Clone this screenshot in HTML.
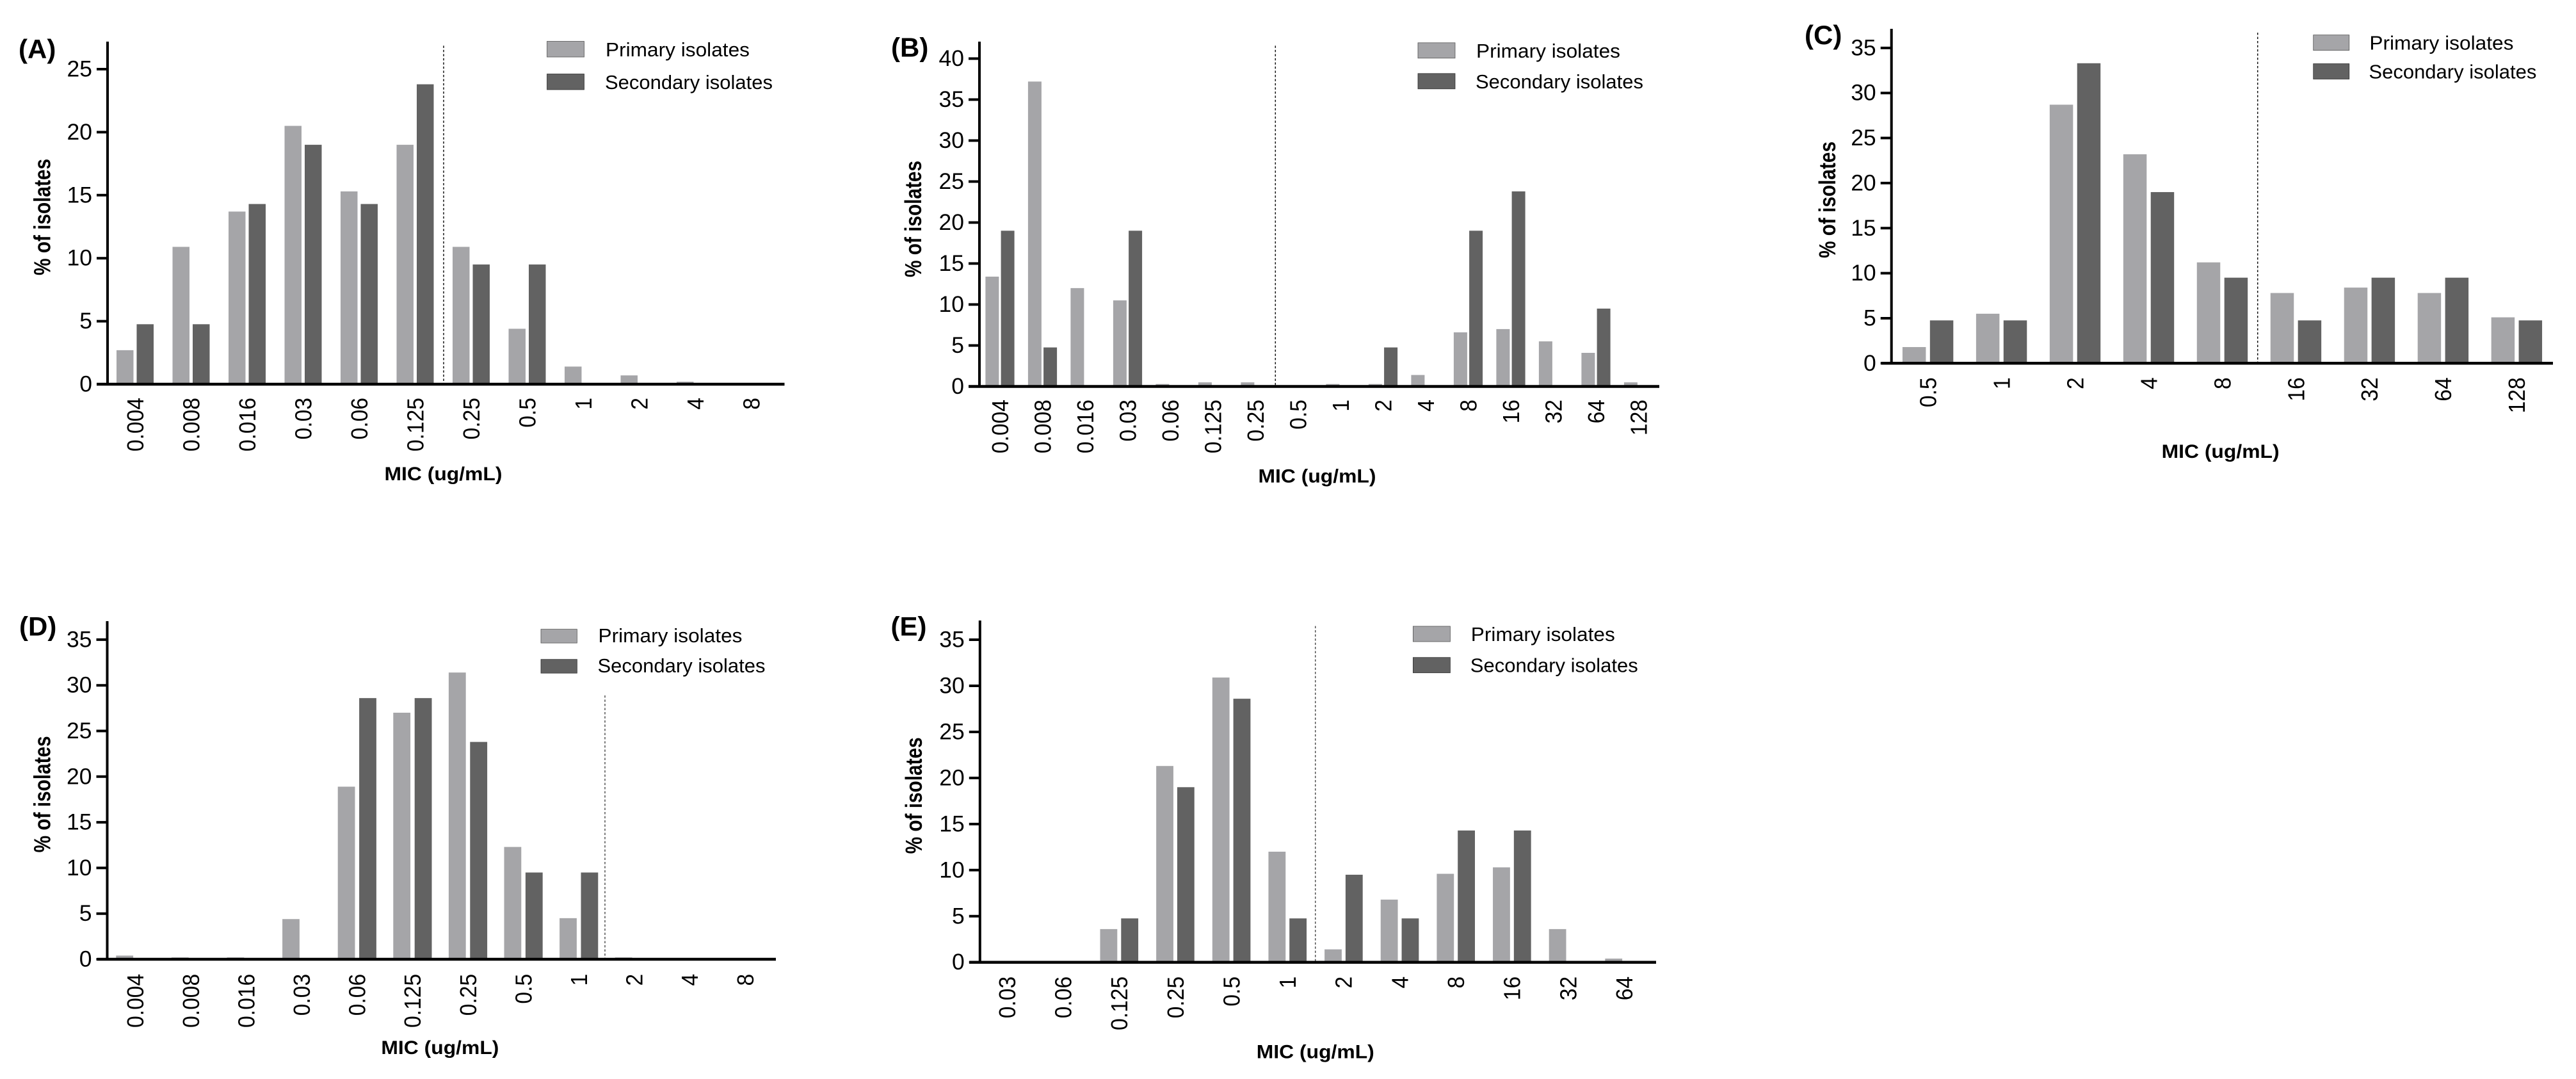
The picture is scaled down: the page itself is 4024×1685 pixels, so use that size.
<!DOCTYPE html>
<html lang="en">
<head>
<meta charset="utf-8">
<title>MIC distributions of primary and secondary isolates</title>
<style>
  html, body { margin: 0; padding: 0; background: #fff; }
  svg { display: block; }
  text { font-family: "Liberation Sans", sans-serif; fill: #000; }
</style>
</head>
<body>
<svg id="figure" xmlns="http://www.w3.org/2000/svg" width="4024" height="1685" viewBox="0 0 4024 1685"></svg>
<script>
// ---- Data ----
const categoriesA = ['0.004','0.008','0.016','0.03','0.06','0.125','0.25','0.5','1','2','4','8'];
const primaryA = [2.7,10.9,13.7,20.5,15.3,19,10.9,4.4,1.4,0.7,0.2,0];
const secondaryA = [4.76,4.76,14.3,19,14.3,23.8,9.5,9.5,0,0,0,0];
const yTicksA = [0,5,10,15,20,25];

const categoriesB = ['0.004','0.008','0.016','0.03','0.06','0.125','0.25','0.5','1','2','4','8','16','32','64','128'];
const primaryB = [13.4,37.2,12,10.5,0.3,0.5,0.5,0,0.3,0.3,1.4,6.6,7,5.5,4.1,0.5];
const secondaryB = [19,4.76,0,19,0,0,0,0,0,4.76,0,19,23.8,0,9.5,0];
const yTicksB = [0,5,10,15,20,25,30,35,40];

const categoriesC = ['0.5','1','2','4','8','16','32','64','128'];
const primaryC = [1.8,5.5,28.7,23.2,11.2,7.8,8.4,7.8,5.1];
const secondaryC = [4.76,4.76,33.3,19,9.5,4.76,9.5,9.5,4.76];
const yTicksC = [0,5,10,15,20,25,30,35];

const categoriesD = ['0.004','0.008','0.016','0.03','0.06','0.125','0.25','0.5','1','2','4','8'];
const primaryD = [0.4,0.2,0.2,4.4,18.9,27,31.4,12.3,4.5,0.2,0,0];
const secondaryD = [0,0,0,0,28.6,28.6,23.8,9.5,9.5,0,0,0];
const yTicksD = [0,5,10,15,20,25,30,35];

const categoriesE = ['0.03','0.06','0.125','0.25','0.5','1','2','4','8','16','32','64'];
const primaryE = [0,0,3.6,21.3,30.9,12,1.4,6.8,9.6,10.3,3.6,0.4];
const secondaryE = [0,0,4.76,19,28.6,4.76,9.5,4.76,14.3,14.3,0,0];
const yTicksE = [0,5,10,15,20,25,30,35];

// ---- Panel layout (geometry only) ----
const panelA = { key:'a', label:'(A)', categories:categoriesA, primary:primaryA, secondary:secondaryA, yTicks:yTicksA,
  axisX:168, baseY:600, topY:65, unit:19.68, xStart:151, xEnd:1225.5, center0:211, step:87.5, barW:26.5, gap:2.5,
  cutoffX:693, cutoffTop:71.4, cutoffW:1.5, swX:854.5, swW:58, sw1Y:64.5, sw2Y:115.5, swH:24.5, legendX:946,
  labelTop:621, titleX:78.5, titleY:339, xTitleX:692.5, xTitleY:750, panelX:29, panelY:91 };
const panelB = { key:'b', label:'(B)', categories:categoriesB, primary:primaryB, secondary:secondaryB, yTicks:yTicksB,
  axisX:1530, baseY:603.5, topY:65, unit:12.8, xStart:1513, xEnd:2592, center0:1562, step:66.5, barW:21, gap:1.6,
  cutoffX:1992.3, cutoffTop:71.4, cutoffW:1.5, swX:2215, swW:58, sw1Y:66.8, sw2Y:114.8, swH:24, legendX:2306,
  labelTop:624, titleX:1439, titleY:342, xTitleX:2057.5, xTitleY:753.5, panelX:1392, panelY:88.3 };
const panelC = { key:'c', label:'(C)', categories:categoriesC, primary:primaryC, secondary:secondaryC, yTicks:yTicksC,
  axisX:2954.7, baseY:567.3, topY:45, unit:14.07, xStart:2939, xEnd:3988, center0:3011.6, step:114.97, barW:36.5, gap:3.2,
  cutoffX:3526.7, cutoffTop:51, cutoffW:1.5, swX:3613.7, swW:56, sw1Y:54.6, sw2Y:99.5, swH:24, legendX:3701.4,
  labelTop:589.3, titleX:2867, titleY:312, xTitleX:3468.6, xTitleY:715, panelX:2819, panelY:68.9 };
const panelD = { key:'d', label:'(D)', categories:categoriesD, primary:primaryD, secondary:secondaryD, yTicks:yTicksD,
  axisX:167.5, baseY:1498, topY:970, unit:14.26, xStart:151.7, xEnd:1212, center0:211.4, step:86.6, barW:26.8, gap:3.3,
  cutoffX:945, cutoffTop:1086, cutoffW:1.1, swX:845, swW:56.4, sw1Y:982.6, sw2Y:1029.7, swH:21.5, legendX:934.5,
  labelTop:1520.8, titleX:78.5, titleY:1240.4, xTitleX:687.4, xTitleY:1646, panelX:30, panelY:992.6 };
const panelE = { key:'e', label:'(E)', categories:categoriesE, primary:primaryE, secondary:secondaryE, yTicks:yTicksE,
  axisX:1530.8, baseY:1502.7, topY:969, unit:14.39, xStart:1514.2, xEnd:2587, center0:1573, step:87.65, barW:26.8, gap:3,
  cutoffX:2054.8, cutoffTop:977.6, cutoffW:1.1, swX:2207.4, swW:58, sw1Y:978, sw2Y:1026.7, swH:24, legendX:2297.8,
  labelTop:1524.8, titleX:1440, titleY:1242.4, xTitleX:2054.8, xTitleY:1652.4, panelX:1391.5, panelY:992.6 };
const panels = [panelA, panelB, panelC, panelD, panelE];

const primaryColor = '#a5a5a8';
const secondaryColor = '#626262';
const NS = 'http://www.w3.org/2000/svg';
const figure = document.getElementById('figure');

function make(parent, tag, attrs, content) {
  const el = document.createElementNS(NS, tag);
  for (const k in attrs) el.setAttribute(k, attrs[k]);
  if (content !== undefined) el.textContent = content;
  parent.appendChild(el);
  return el;
}

function drawPanel(p) {
  const xScale = i => p.center0 + i * p.step;
  const yScale = v => p.baseY - v * p.unit;

  const g = make(figure, 'g', {});
  
  

  // bars
  p.categories.forEach((cat, i) => {
    const c = xScale(i);
    if (p.primary[i] > 0) {
      const r1 = make(g, 'rect', { x: c - p.gap - p.barW, y: yScale(p.primary[i]), width: p.barW, height: p.baseY - yScale(p.primary[i]), fill: primaryColor });
      
      
    }
    if (p.secondary[i] > 0) {
      const r2 = make(g, 'rect', { x: c + p.gap, y: yScale(p.secondary[i]), width: p.barW, height: p.baseY - yScale(p.secondary[i]), fill: secondaryColor });
      
      
    }
    const tickLabel = make(g, 'text', {
      transform: 'translate(' + (c + 12.8) + ',' + p.labelTop + ') rotate(-90) scale(0.935,1)',
      'text-anchor': 'end', 'font-size': 36
    }, cat);
    
    
  });

  // cutoff line
  const cutoff = make(g, 'line', { x1: p.cutoffX, x2: p.cutoffX, y1: p.cutoffTop, y2: p.baseY, stroke: '#111', 'stroke-width': p.cutoffW, 'stroke-dasharray': '3.5 3' });
  
  

  // axes
  const yAxis = make(g, 'line', { x1: p.axisX, x2: p.axisX, y1: p.topY, y2: p.baseY + 2, stroke: '#000', 'stroke-width': 4 });
  
  
  const xAxis = make(g, 'line', { x1: p.xStart, x2: p.xEnd, y1: p.baseY, y2: p.baseY, stroke: '#000', 'stroke-width': 4.5 });
  
  

  p.yTicks.forEach(t => {
    const tick = make(g, 'line', { x1: p.axisX - 17, x2: p.axisX, y1: yScale(t), y2: yScale(t), stroke: '#000', 'stroke-width': 4 });
    
    
    const tl = make(g, 'text', { x: p.axisX - 24, y: yScale(t) + 11.5, 'text-anchor': 'end', 'font-size': 35.5 }, String(t));
    
    
  });

  // titles
  const yTitle = make(g, 'text', {
    transform: 'translate(' + p.titleX + ',' + p.titleY + ') rotate(-90)',
    'text-anchor': 'middle', 'font-size': 36, 'font-weight': 'bold',
    textLength: 182, lengthAdjust: 'spacingAndGlyphs'
  }, '% of isolates');
  
  

  const xTitle = make(g, 'text', {
    x: p.xTitleX, y: p.xTitleY, 'text-anchor': 'middle', 'font-size': 30, 'font-weight': 'bold',
    textLength: 184, lengthAdjust: 'spacingAndGlyphs'
  }, 'MIC (ug/mL)');
  
  

  const panelLabel = make(g, 'text', {
    x: p.panelX, y: p.panelY, 'font-size': 42, 'font-weight': 'bold'
  }, p.label);
  
  

  // legend
  const sw1 = make(g, 'rect', { x: p.swX, y: p.sw1Y, width: p.swW, height: p.swH, fill: primaryColor, stroke: '#555', 'stroke-width': 0.8 });
  
  
  const lt1 = make(g, 'text', { x: p.legendX, y: p.sw1Y + p.swH - 1, 'font-size': 31, textLength: 225, lengthAdjust: 'spacingAndGlyphs' }, 'Primary isolates');
  
  
  const sw2 = make(g, 'rect', { x: p.swX, y: p.sw2Y, width: p.swW, height: p.swH, fill: secondaryColor, stroke: '#333', 'stroke-width': 0.8 });
  
  
  const lt2 = make(g, 'text', { x: p.legendX - 1, y: p.sw2Y + p.swH - 1, 'font-size': 31, textLength: 262, lengthAdjust: 'spacingAndGlyphs' }, 'Secondary isolates');
  
  
}

panels.forEach(drawPanel);
</script>
</body>
</html>
